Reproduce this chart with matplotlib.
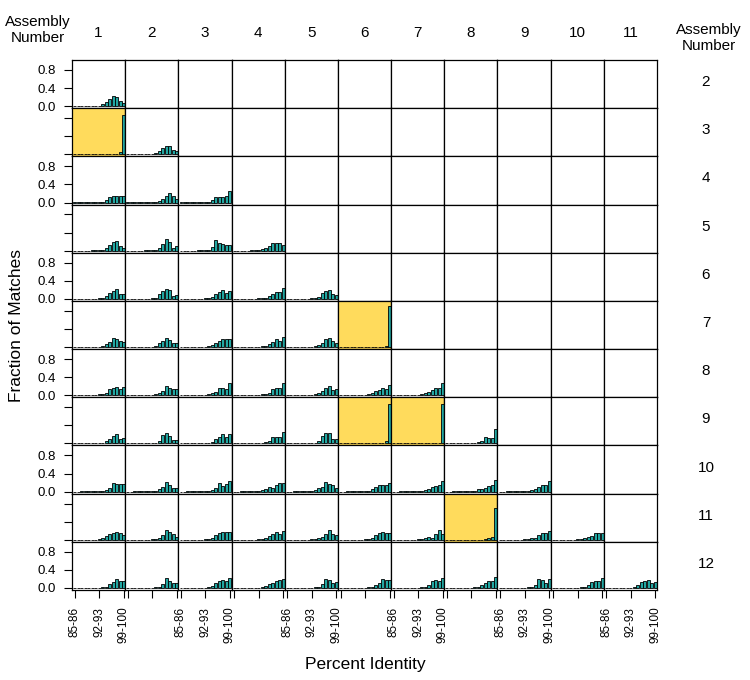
#!/usr/bin/env python3

import matplotlib
matplotlib.use("Agg")
import matplotlib.pyplot as plt

plt.rcParams['font.family'] = ['Liberation Sans', 'DejaVu Sans']

# percent identity bins (15 bars per panel)
bins = ['85-86', '86-87', '87-88', '88-89', '89-90', '90-91', '91-92', '92-93',
        '93-94', '94-95', '95-96', '96-97', '97-98', '98-99', '99-100']
tick_pos = [0, 7, 14]
tick_labels = ['85-86', '92-93', '99-100']

col_assemblies = [1, 2, 3, 4, 5, 6, 7, 8, 9, 10, 11]
row_assemblies = [2, 3, 4, 5, 6, 7, 8, 9, 10, 11, 12]

# fraction of matches, one list per panel (row assembly vs column assembly)
row2 = [
    [0.002, 0.002, 0.003, 0.003, 0.004, 0.005, 0.006, 0.01, 0.04, 0.10, 0.15, 0.23, 0.20, 0.12, 0.06],
]
row3 = [
    [0.002, 0.002, 0.002, 0.002, 0.002, 0.002, 0.003, 0.003, 0.004, 0.005, 0.006, 0.008, 0.012, 0.05, 0.86],
    [0.002, 0.002, 0.003, 0.003, 0.004, 0.005, 0.006, 0.01, 0.03, 0.07, 0.15, 0.18, 0.18, 0.10, 0.07],
]
row4 = [
    [0.002, 0.002, 0.003, 0.003, 0.004, 0.005, 0.007, 0.01, 0.02, 0.05, 0.13, 0.15, 0.15, 0.15, 0.15],
    [0.002, 0.002, 0.003, 0.003, 0.004, 0.005, 0.006, 0.01, 0.02, 0.04, 0.08, 0.15, 0.20, 0.15, 0.08],
    [0.002, 0.002, 0.003, 0.003, 0.004, 0.005, 0.006, 0.008, 0.01, 0.06, 0.13, 0.13, 0.13, 0.14, 0.25],
]
row5 = [
    [0.002, 0.002, 0.003, 0.003, 0.004, 0.005, 0.006, 0.01, 0.02, 0.05, 0.12, 0.19, 0.22, 0.10, 0.06],
    [0.002, 0.002, 0.003, 0.003, 0.004, 0.005, 0.006, 0.008, 0.02, 0.05, 0.14, 0.25, 0.20, 0.07, 0.10],
    [0.002, 0.002, 0.003, 0.003, 0.004, 0.005, 0.006, 0.01, 0.02, 0.08, 0.23, 0.18, 0.14, 0.12, 0.12],
    [0.002, 0.002, 0.003, 0.003, 0.004, 0.005, 0.006, 0.01, 0.03, 0.05, 0.10, 0.18, 0.18, 0.16, 0.12],
]
row6 = [
    [0.002, 0.002, 0.003, 0.003, 0.004, 0.005, 0.006, 0.01, 0.03, 0.07, 0.14, 0.18, 0.21, 0.10, 0.10],
    [0.002, 0.002, 0.003, 0.003, 0.004, 0.005, 0.006, 0.01, 0.02, 0.10, 0.18, 0.21, 0.20, 0.06, 0.09],
    [0.002, 0.002, 0.003, 0.003, 0.004, 0.005, 0.006, 0.01, 0.02, 0.04, 0.10, 0.16, 0.20, 0.12, 0.18],
    [0.002, 0.002, 0.003, 0.003, 0.004, 0.005, 0.006, 0.01, 0.02, 0.03, 0.06, 0.10, 0.16, 0.16, 0.23],
    [0.002, 0.002, 0.003, 0.003, 0.004, 0.005, 0.006, 0.01, 0.02, 0.05, 0.12, 0.17, 0.20, 0.10, 0.08],
]
row7 = [
    [0.002, 0.002, 0.003, 0.003, 0.004, 0.005, 0.006, 0.01, 0.03, 0.06, 0.12, 0.20, 0.18, 0.13, 0.12],
    [0.002, 0.002, 0.003, 0.003, 0.004, 0.005, 0.006, 0.01, 0.03, 0.08, 0.14, 0.21, 0.16, 0.09, 0.08],
    [0.002, 0.002, 0.003, 0.003, 0.004, 0.005, 0.006, 0.01, 0.02, 0.04, 0.08, 0.14, 0.18, 0.17, 0.17],
    [0.002, 0.002, 0.003, 0.003, 0.004, 0.005, 0.006, 0.01, 0.02, 0.03, 0.07, 0.12, 0.17, 0.13, 0.23],
    [0.002, 0.002, 0.003, 0.003, 0.004, 0.005, 0.006, 0.01, 0.02, 0.04, 0.08, 0.17, 0.20, 0.13, 0.10],
    [0.002, 0.002, 0.002, 0.002, 0.002, 0.002, 0.003, 0.003, 0.003, 0.004, 0.005, 0.006, 0.008, 0.02, 0.91],
]
row8 = [
    [0.002, 0.002, 0.003, 0.003, 0.004, 0.005, 0.006, 0.02, 0.03, 0.04, 0.13, 0.16, 0.18, 0.13, 0.18],
    [0.002, 0.002, 0.003, 0.003, 0.004, 0.005, 0.006, 0.01, 0.02, 0.04, 0.10, 0.21, 0.17, 0.13, 0.13],
    [0.002, 0.002, 0.003, 0.003, 0.004, 0.005, 0.006, 0.01, 0.02, 0.04, 0.07, 0.15, 0.15, 0.14, 0.28],
    [0.002, 0.002, 0.003, 0.003, 0.004, 0.005, 0.006, 0.01, 0.02, 0.03, 0.06, 0.14, 0.17, 0.17, 0.27],
    [0.002, 0.002, 0.003, 0.003, 0.004, 0.005, 0.006, 0.01, 0.03, 0.06, 0.10, 0.16, 0.20, 0.11, 0.13],
    [0.002, 0.002, 0.003, 0.003, 0.004, 0.005, 0.006, 0.01, 0.02, 0.04, 0.10, 0.12, 0.15, 0.13, 0.22],
    [0.002, 0.002, 0.003, 0.003, 0.004, 0.005, 0.006, 0.01, 0.02, 0.04, 0.08, 0.12, 0.15, 0.15, 0.26],
]
row9 = [
    [0.002, 0.002, 0.003, 0.003, 0.004, 0.005, 0.006, 0.01, 0.02, 0.05, 0.10, 0.16, 0.20, 0.10, 0.12],
    [0.002, 0.002, 0.003, 0.003, 0.004, 0.005, 0.006, 0.01, 0.02, 0.06, 0.19, 0.23, 0.17, 0.08, 0.08],
    [0.002, 0.002, 0.003, 0.003, 0.004, 0.005, 0.006, 0.01, 0.02, 0.04, 0.10, 0.15, 0.20, 0.14, 0.20],
    [0.002, 0.002, 0.003, 0.003, 0.004, 0.005, 0.006, 0.01, 0.02, 0.03, 0.06, 0.14, 0.14, 0.15, 0.26],
    [0.002, 0.002, 0.003, 0.003, 0.004, 0.005, 0.006, 0.01, 0.02, 0.05, 0.17, 0.22, 0.22, 0.10, 0.10],
    [0.002, 0.002, 0.002, 0.002, 0.002, 0.002, 0.003, 0.003, 0.003, 0.004, 0.005, 0.006, 0.01, 0.06, 0.88],
    [0.002, 0.002, 0.002, 0.002, 0.002, 0.002, 0.003, 0.003, 0.003, 0.004, 0.005, 0.006, 0.008, 0.02, 0.88],
    [0.002, 0.002, 0.003, 0.003, 0.004, 0.005, 0.006, 0.01, 0.02, 0.03, 0.06, 0.15, 0.13, 0.12, 0.31],
]
row10 = [
    [0.002, 0.002, 0.003, 0.003, 0.004, 0.005, 0.006, 0.01, 0.02, 0.03, 0.07, 0.19, 0.17, 0.16, 0.16],
    [0.002, 0.002, 0.003, 0.003, 0.004, 0.005, 0.006, 0.01, 0.02, 0.05, 0.10, 0.21, 0.15, 0.08, 0.09],
    [0.002, 0.002, 0.003, 0.003, 0.004, 0.005, 0.006, 0.01, 0.02, 0.03, 0.08, 0.20, 0.12, 0.16, 0.23],
    [0.002, 0.002, 0.003, 0.003, 0.004, 0.005, 0.006, 0.01, 0.03, 0.06, 0.10, 0.09, 0.15, 0.18, 0.18],
    [0.002, 0.002, 0.003, 0.003, 0.004, 0.005, 0.006, 0.01, 0.04, 0.07, 0.10, 0.21, 0.16, 0.14, 0.09],
    [0.002, 0.002, 0.003, 0.003, 0.004, 0.005, 0.006, 0.01, 0.02, 0.05, 0.10, 0.14, 0.15, 0.14, 0.19],
    [0.002, 0.002, 0.003, 0.003, 0.004, 0.005, 0.006, 0.01, 0.02, 0.03, 0.06, 0.10, 0.12, 0.14, 0.23],
    [0.002, 0.002, 0.003, 0.003, 0.004, 0.005, 0.006, 0.01, 0.02, 0.05, 0.05, 0.09, 0.13, 0.15, 0.26],
    [0.002, 0.002, 0.003, 0.003, 0.004, 0.005, 0.006, 0.01, 0.02, 0.03, 0.06, 0.10, 0.15, 0.14, 0.24],
]
row11 = [
    [0.002, 0.002, 0.003, 0.003, 0.004, 0.005, 0.006, 0.02, 0.04, 0.08, 0.13, 0.16, 0.17, 0.15, 0.10],
    [0.002, 0.002, 0.003, 0.003, 0.004, 0.005, 0.006, 0.01, 0.02, 0.04, 0.10, 0.21, 0.17, 0.12, 0.07],
    [0.002, 0.002, 0.003, 0.003, 0.004, 0.005, 0.006, 0.01, 0.02, 0.03, 0.10, 0.16, 0.17, 0.17, 0.17],
    [0.002, 0.002, 0.003, 0.003, 0.004, 0.005, 0.006, 0.01, 0.02, 0.03, 0.08, 0.13, 0.18, 0.13, 0.19],
    [0.002, 0.002, 0.003, 0.003, 0.004, 0.005, 0.006, 0.01, 0.02, 0.03, 0.06, 0.13, 0.22, 0.12, 0.10],
    [0.002, 0.002, 0.003, 0.003, 0.004, 0.005, 0.006, 0.01, 0.02, 0.05, 0.10, 0.15, 0.17, 0.15, 0.15],
    [0.002, 0.002, 0.003, 0.003, 0.004, 0.005, 0.006, 0.01, 0.02, 0.04, 0.06, 0.05, 0.13, 0.21, 0.13],
    [0.002, 0.002, 0.002, 0.002, 0.002, 0.002, 0.003, 0.003, 0.003, 0.004, 0.005, 0.01, 0.03, 0.07, 0.71],
    [0.002, 0.002, 0.003, 0.003, 0.004, 0.005, 0.006, 0.01, 0.02, 0.03, 0.05, 0.10, 0.15, 0.15, 0.20],
    [0.002, 0.002, 0.003, 0.003, 0.004, 0.005, 0.006, 0.01, 0.02, 0.03, 0.06, 0.08, 0.15, 0.15, 0.15],
]
row12 = [
    [0.002, 0.002, 0.003, 0.003, 0.004, 0.005, 0.006, 0.01, 0.02, 0.03, 0.08, 0.14, 0.19, 0.16, 0.16],
    [0.002, 0.002, 0.003, 0.003, 0.004, 0.005, 0.006, 0.01, 0.02, 0.03, 0.08, 0.23, 0.15, 0.11, 0.11],
    [0.002, 0.002, 0.003, 0.003, 0.004, 0.005, 0.006, 0.01, 0.02, 0.04, 0.10, 0.15, 0.18, 0.15, 0.23],
    [0.002, 0.002, 0.003, 0.003, 0.004, 0.005, 0.006, 0.01, 0.02, 0.04, 0.09, 0.11, 0.15, 0.17, 0.20],
    [0.002, 0.002, 0.003, 0.003, 0.004, 0.005, 0.006, 0.01, 0.02, 0.03, 0.08, 0.19, 0.17, 0.12, 0.13],
    [0.002, 0.002, 0.003, 0.003, 0.004, 0.005, 0.006, 0.01, 0.02, 0.03, 0.06, 0.12, 0.19, 0.17, 0.18],
    [0.002, 0.002, 0.003, 0.003, 0.004, 0.005, 0.006, 0.01, 0.02, 0.03, 0.06, 0.16, 0.18, 0.16, 0.22],
    [0.002, 0.002, 0.003, 0.003, 0.004, 0.005, 0.006, 0.01, 0.02, 0.03, 0.06, 0.12, 0.16, 0.16, 0.25],
    [0.002, 0.002, 0.003, 0.003, 0.004, 0.005, 0.006, 0.01, 0.02, 0.03, 0.07, 0.19, 0.18, 0.12, 0.20],
    [0.002, 0.002, 0.003, 0.003, 0.004, 0.005, 0.006, 0.01, 0.02, 0.03, 0.06, 0.13, 0.15, 0.16, 0.21],
    [0.002, 0.002, 0.003, 0.003, 0.004, 0.005, 0.006, 0.01, 0.03, 0.07, 0.13, 0.15, 0.17, 0.12, 0.14],
]

# (row assembly, column assembly) panels with the yellow background
highlight = [(3, 1), (7, 6), (9, 6), (9, 7), (11, 8)]

rows = [row2, row3, row4, row5, row6, row7, row8, row9, row10, row11, row12]

W, H = 750, 680


def fx(px):
    return px / W


def fy(py):
    return 1 - py / H


if __name__ == "__main__":
    fig, axes = plt.subplots(11, 11, figsize=(7.5, 6.8), dpi=100)
    fig.subplots_adjust(left=fx(72), right=fx(657), top=fy(60), bottom=fy(590),
                        wspace=0, hspace=0)

    for i, r in enumerate(row_assemblies):
        for j, c in enumerate(col_assemblies):
            ax = axes[i, j]
            ax.set_xlim(-0.75, 14.45)
            ax.set_ylim(-0.045, 1.02)
            ax.set_xticks([])
            ax.set_yticks([])
            for s in ax.spines.values():
                s.set_linewidth(0.9)
            if j < len(rows[i]):
                if (r, c) in highlight:
                    ax.set_facecolor('#ffdb5c')
                ax.bar(range(len(bins)), rows[i][j], width=0.85, color='#22a7a2',
                       edgecolor='black', linewidth=0.6)
            if j == 0:
                ax.set_yticks([0, 0.4, 0.8])
                if i % 2 == 0:
                    ax.set_yticklabels(['0.0', '0.4', '0.8'])
                else:
                    ax.set_yticklabels([])
                ax.tick_params(axis='y', direction='out', length=6, width=0.8,
                               labelsize=9.5, pad=5.5)
            if i == len(row_assemblies) - 1:
                ax.set_xticks(tick_pos)
                if j % 2 == 0:
                    ax.set_xticklabels(tick_labels, rotation=90)
                else:
                    ax.set_xticklabels([])
                ax.tick_params(axis='x', direction='out', length=6, width=0.8,
                               labelsize=8.5, pad=6)

    # column headers
    col_w = (657 - 72) / 11
    for j, c in enumerate(col_assemblies):
        fig.text(fx(72 + col_w * (j + 0.5)), fy(33), str(c), ha='center', va='center',
                 fontsize=11)
    fig.text(fx(38), fy(30), 'Assembly\nNumber', ha='center', va='center',
             fontsize=11, linespacing=1.2)

    # row headers
    row_h = (590 - 60) / 11
    fig.text(fx(709), fy(38), 'Assembly\nNumber', ha='center', va='center',
             fontsize=11, linespacing=1.2)
    for i, r in enumerate(row_assemblies):
        fig.text(fx(706), fy(60 + row_h * (i + 0.5) - 2), str(r), ha='center',
                 va='center', fontsize=11)

    fig.text(fx(17), fy(325), 'Fraction of Matches', rotation=90, ha='center',
             va='center', fontsize=12.5)
    fig.text(fx(365), fy(665), 'Percent Identity', ha='center', va='center',
             fontsize=12.5)

    fig.savefig('out.png', dpi=100)
